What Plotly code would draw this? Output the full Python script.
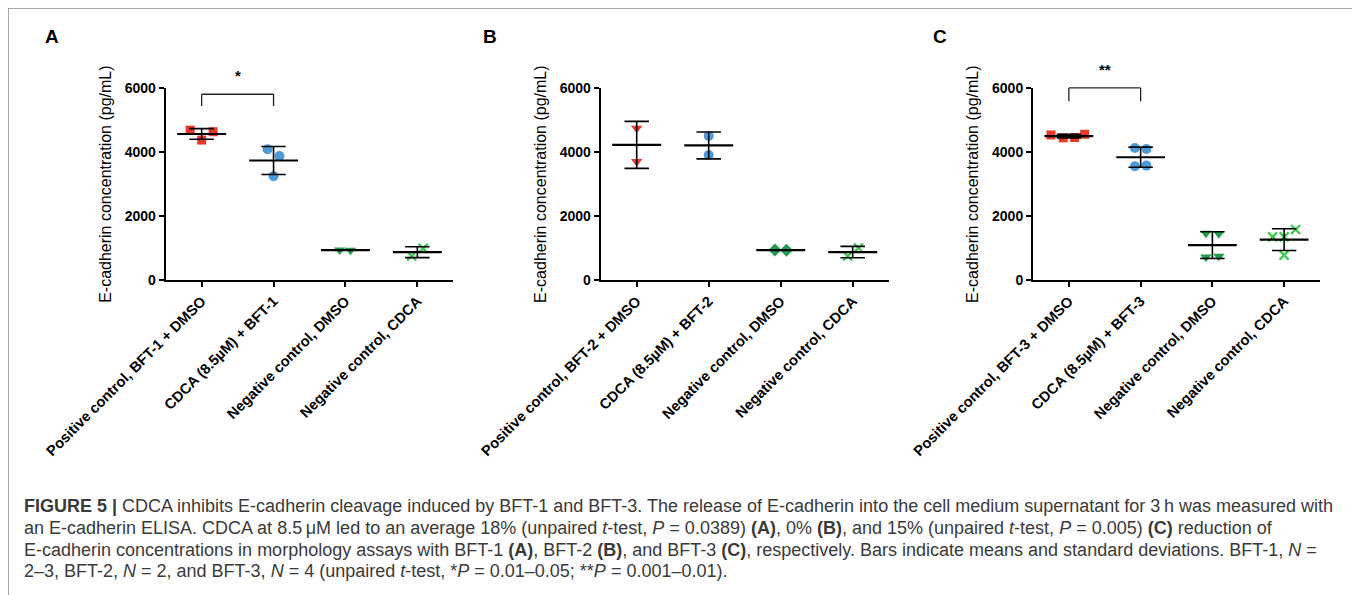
import numpy as np
import plotly.graph_objects as go

# ---------------- data ----------------
labels_A = ["Positive control, BFT-1 + DMSO", "CDCA (8.5µM) + BFT-1",
            "Negative control, DMSO", "Negative control, CDCA"]
labels_B = ["Positive control, BFT-2 + DMSO", "CDCA (8.5µM) + BFT-2",
            "Negative control, DMSO", "Negative control, CDCA"]
labels_C = ["Positive control, BFT-3 + DMSO", "CDCA (8.5µM) + BFT-3",
            "Negative control, DMSO", "Negative control, CDCA"]

A_pos = [4690, 4640, 4380]
A_cdca = [4090, 3880, 3250]
A_negdmso = [940, 935]
A_negcdca = [750, 990]

B_pos = [4750, 3710]
B_cdca = [4510, 3915]
B_negdmso = [940, 935]
B_negcdca = [750, 1000]

C_pos = [4540, 4450, 4460, 4560]
C_cdca = [4130, 4100, 3560, 3580]
C_negdmso = [1460, 1450, 720, 740]
C_negcdca = [1350, 1350, 1580, 780]

yticks = [0, 2000, 4000, 6000]

# horizontal spread of replicate points (scatter-dot layout), category units
jit_A = [[-0.16, 0.16, 0.0], [-0.083, 0.083, 0.0], [-0.08, 0.07], [-0.08, 0.08]]
jit_B = [[0.0, 0.0], [0.0, 0.0], [-0.08, 0.08], [-0.07, 0.08]]
jit_C = [[-0.25, -0.08, 0.08, 0.22], [-0.08, 0.08, -0.08, 0.08],
         [-0.09, 0.09, -0.09, 0.09], [-0.16, 0.0, 0.16, 0.0]]

RED = "#e8392b"
BLUE = "#4d9ad8"
DGREEN = "#1e9e48"
LGREEN = "#3cc84a"

styles_A = [("square", RED), ("circle", BLUE), ("triangle-down", DGREEN), ("x-thin", LGREEN)]
styles_B = [("triangle-down", RED), ("circle", BLUE), ("diamond", DGREEN), ("x-thin", LGREEN)]
styles_C = [("square", RED), ("circle", BLUE), ("triangle-down", DGREEN), ("x-thin", LGREEN)]

W, H = 1360, 595
OFF = 8  # page body margin


def px(xp):
    return (xp - OFF) / W


def py(yp):
    return 1 - (yp - OFF) / H


panels = [
    ("A", labels_A, [A_pos, A_cdca, A_negdmso, A_negcdca], jit_A, styles_A, (165.7, 453.3), 52),
    ("B", labels_B, [B_pos, B_cdca, B_negdmso, B_negcdca], jit_B, styles_B, (600.7, 888.7), 490),
    ("C", labels_C, [C_pos, C_cdca, C_negdmso, C_negcdca], jit_C, styles_C, (1033.0, 1320.0), 940),
]

fig = go.Figure()
FONT = "Liberation Sans, Arial, sans-serif"
ydom = [py(280), py(88.3)]

for i, (name, labels, groups, jits, styles, xpx, letter_x) in enumerate(panels):
    sfx = "" if i == 0 else str(i + 1)
    xa, ya = "x" + sfx, "y" + sfx
    # replicate points
    for c, (vals, jit, (sym, col)) in enumerate(zip(groups, jits, styles)):
        xs = [c + j for j in jit]
        if sym == "x-thin":
            marker = dict(symbol="x-thin", size=9, color=col, line=dict(color=col, width=2.3))
        else:
            size = 10 if sym != "square" else 9
            marker = dict(symbol=sym, size=size, color=col, line=dict(width=0))
        fig.add_trace(go.Scatter(x=xs, y=vals, mode="markers", marker=marker,
                                 xaxis=xa, yaxis=ya, showlegend=False, cliponaxis=False,
                                 hoverinfo="y"))
    # mean and SD
    for c, vals in enumerate(groups):
        m = float(np.mean(vals))
        s = float(np.std(vals, ddof=1))
        fig.add_trace(go.Scatter(x=[c - 0.17, c + 0.17, None, c, c, None, c - 0.17, c + 0.17],
                                 y=[m + s, m + s, None, m + s, m - s, None, m - s, m - s],
                                 mode="lines", line=dict(color="black", width=1.6),
                                 xaxis=xa, yaxis=ya, showlegend=False, hoverinfo="skip"))
        fig.add_trace(go.Scatter(x=[c - 0.34, c + 0.34], y=[m, m], mode="lines",
                                 line=dict(color="black", width=2.2),
                                 xaxis=xa, yaxis=ya, showlegend=False, hoverinfo="skip"))

    fig.layout["xaxis" + sfx] = dict(
        domain=[px(xpx[0]), px(xpx[1])], range=[-0.5, 3.5], anchor=ya, automargin=False,
        tickmode="array", tickvals=[0, 1, 2, 3], ticktext=labels, tickangle=-45,
        ticks="outside", ticklen=5, tickwidth=2, tickcolor="black",
        showline=True, linecolor="black", linewidth=2, showgrid=False, zeroline=False,
        tickfont=dict(family=FONT, size=14.6, color="black", weight="bold"),
    )
    fig.layout["yaxis" + sfx] = dict(
        domain=ydom, range=[0, 6000], anchor=xa, automargin=False,
        tickmode="array", tickvals=yticks, ticktext=[str(t) for t in yticks],
        ticks="outside", ticklen=5, tickwidth=2, tickcolor="black",
        showline=True, linecolor="black", linewidth=2, showgrid=False, zeroline=False,
        tickfont=dict(family=FONT, size=14, color="black", weight="bold"),
        title=dict(text="E-cadherin concentration (pg/mL)", standoff=9,
                   font=dict(family=FONT, size=16, color="black")),
    )
    # panel letter
    fig.add_annotation(text="<b>%s</b>" % name, xref="paper", yref="paper",
                       x=px(letter_x), y=py(36), xanchor="center", yanchor="middle",
                       showarrow=False, font=dict(family=FONT, size=19, color="black"))

# significance brackets
brackets = [("x", "y domain", 0.969, 0.908, "*", 1.068),
            ("x3", "y3 domain", 1.0017, 0.932, "**", 1.099)]
for xr, yr, ytop, ybot, star, ystar in brackets:
    for (x0, y0, x1, y1) in [(0, ybot, 0, ytop), (0, ytop, 1, ytop), (1, ytop, 1, ybot)]:
        fig.add_shape(type="line", xref=xr, yref=yr, x0=x0, y0=y0, x1=x1, y1=y1,
                      line=dict(color="#222", width=1.3))
    fig.add_annotation(text="<b>%s</b>" % star, xref=xr, yref=yr, x=0.5, y=ystar, showarrow=False,
                       font=dict(family=FONT, size=15, color="black"),
                       xanchor="center", yanchor="middle")

# caption
cap_lines = [
    "<b>FIGURE 5 |</b> CDCA inhibits E-cadherin cleavage induced by BFT-1 and BFT-3. The release of E-cadherin into the cell medium supernatant for 3\u2009h was measured with",
    "an E-cadherin ELISA. CDCA at 8.5\u2009\u03bcM led to an average 18% (unpaired <i>t</i>-test, <i>P</i> = 0.0389) <b>(A)</b>, 0% <b>(B)</b>, and 15% (unpaired <i>t</i>-test, <i>P</i> = 0.005) <b>(C)</b> reduction of",
    "E-cadherin concentrations in morphology assays with BFT-1 <b>(A)</b>, BFT-2 <b>(B)</b>, and BFT-3 <b>(C)</b>, respectively. Bars indicate means and standard deviations. BFT-1, <i>N</i> =",
    "2\u20133, BFT-2, <i>N</i> = 2, and BFT-3, <i>N</i> = 4 (unpaired <i>t</i>-test, *<i>P</i> = 0.01\u20130.05; **<i>P</i> = 0.001\u20130.01).",
]
for k, line in enumerate(cap_lines):
    fig.add_annotation(text=line, xref="paper", yref="paper", x=px(22), y=py(506 + 21.8 * k),
                       xanchor="left", yanchor="middle", showarrow=False, align="left",
                       font=dict(family=FONT, size=18, color="#3a3a3a"))

# frame
fx0, fx1, fy = px(8), px(1356), py(8)
for (x0, y0, x1, y1) in [(fx0, -0.05, fx0, fy), (fx0, fy, fx1, fy), (fx1, fy, fx1, -0.05)]:
    fig.add_shape(type="line", xref="paper", yref="paper", x0=x0, y0=y0, x1=x1, y1=y1,
                  line=dict(color="#8a8a8a", width=1.5))

fig.update_layout(width=W, height=H, margin=dict(l=0, r=0, t=0, b=0, autoexpand=False),
                  paper_bgcolor="white", plot_bgcolor="white",
                  font=dict(family=FONT), showlegend=False)

fig.write_html("out.html")
